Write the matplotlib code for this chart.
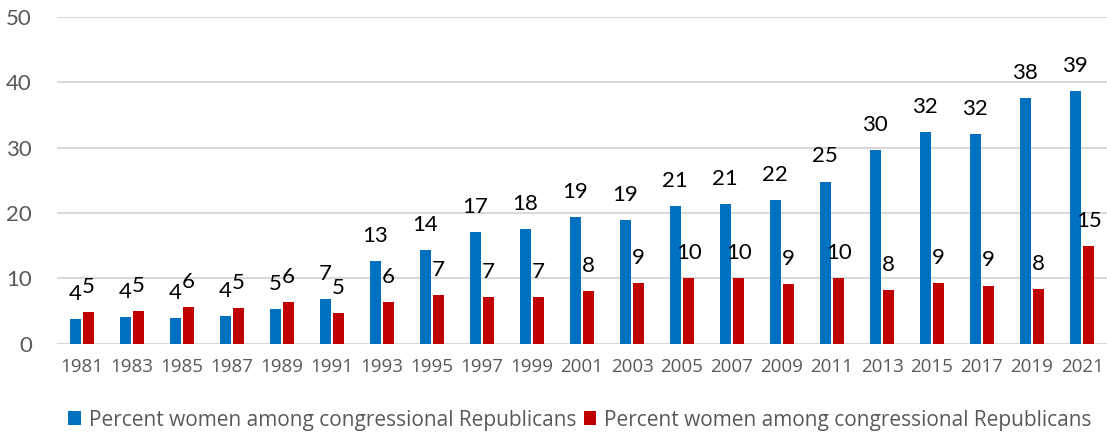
import matplotlib
matplotlib.use("Agg")
import matplotlib.pyplot as plt
import numpy as np

plt.rcParams['font.family'] = ['Lato', 'DejaVu Sans']

years = ["1981", "1983", "1985", "1987", "1989", "1991", "1993", "1995", "1997", "1999", "2001",
         "2003", "2005", "2007", "2009", "2011", "2013", "2015", "2017", "2019", "2021"]
blue_vals = [3.8, 4.1, 4.0, 4.2, 5.3, 6.8, 12.6, 14.3, 17.1, 17.5, 19.4,
             18.9, 21.1, 21.4, 21.9, 24.8, 29.6, 32.4, 32.1, 37.6, 38.6]
red_vals = [4.9, 5.0, 5.6, 5.4, 6.4, 4.7, 6.4, 7.4, 7.1, 7.2, 8.1,
            9.3, 10.1, 10.0, 9.1, 10.0, 8.2, 9.3, 8.9, 8.4, 14.9]
series_names = ["Percent women among congressional Republicans",
                "Percent women among congressional Republicans"]

blue = "#0070C0"
red = "#C00000"
grey = "#595959"

fig = plt.figure(figsize=(11.07, 4.33), dpi=100)
ax = fig.add_axes([0.0515, 0.2062, 0.9485, 0.7552])

x = np.arange(len(years))
w = 0.22
off = 0.133
b1 = ax.bar(x - off, blue_vals, w, color=blue, label=series_names[0], zorder=3)
b2 = ax.bar(x + off, red_vals, w, color=red, label=series_names[1], zorder=3)

# value labels above each bar
for bars in (b1, b2):
    for r in bars:
        h = r.get_height()
        ax.annotate(f"{h:.0f}", (r.get_x() + r.get_width() / 2, h),
                    xytext=(0, 13.7), textcoords="offset points",
                    ha="center", va="baseline", fontsize=16, color="black")

ax.set_xlim(-0.5, len(years) - 0.5)
ax.set_ylim(0, 50)
ax.set_yticks([0, 10, 20, 30, 40, 50])
ax.set_xticks(x)
ax.set_xticklabels(years, fontfamily="Open Sans")
ax.tick_params(axis="y", length=0, pad=18, labelsize=16, labelcolor=grey)
ax.tick_params(axis="x", length=0, pad=10, labelsize=13.5, labelcolor=grey)
ax.yaxis.grid(True, color="#D9D9D9", linewidth=1.5, zorder=0)
ax.set_axisbelow(True)
for s in ax.spines.values():
    s.set_visible(False)

fig.legend(handles=[b1, b2], labels=series_names, loc="center",
           bbox_to_anchor=(0.524, 0.03), ncol=2, frameon=False,
           prop={"family": "Open Sans", "size": 15},
           labelcolor=grey, handlelength=0.62, handleheight=0.62,
           handletextpad=0.38, columnspacing=0.33)

fig.savefig("out.png", dpi=100)
